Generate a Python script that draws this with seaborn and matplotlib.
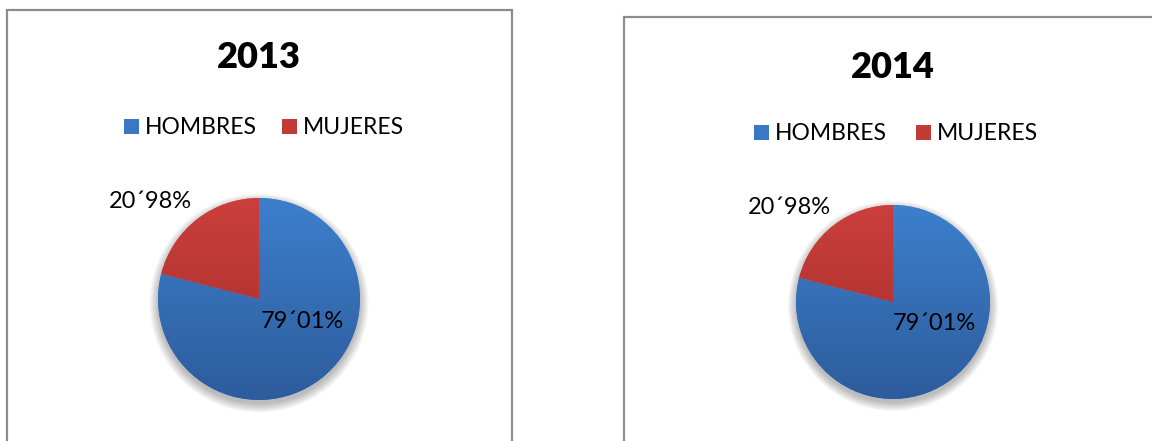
import numpy as np
import pandas as pd
import matplotlib
matplotlib.use("Agg")
import matplotlib.pyplot as plt
import seaborn as sns
from matplotlib.patches import Rectangle, Circle
from matplotlib.colors import LinearSegmentedColormap

# ---- data ----
years = ["2013", "2014"]
categories = ["HOMBRES", "MUJERES"]
values_2013 = [79.01, 20.98]
values_2014 = [79.01, 20.98]

sns.set_theme(style="white")
plt.rcParams["font.family"] = ["Lato", "DejaVu Sans"]

W, H = 1152, 441
fig = plt.figure(figsize=(W / 100, H / 100), dpi=100)
fig.patch.set_facecolor("white")

top_colors = ["#3D7FCC", "#CB3F3B"]
bot_colors = ["#2D5C9C", "#A02D2B"]
legend_colors = ["#3A78C4", "#C23B37"]

def fx(px):
    return px / W

def fy(py):
    return 1 - py / H

panels = [
    dict(x0=7, y0=10, x1=512, cx=259, cy=299, r=101, title_y=58, leg_y=127,
         leg_x=[124, 282]),
    dict(x0=624, y0=17, x1=1160, cx=893, cy=302, r=97, title_y=67, leg_y=133,
         leg_x=[754, 916]),
]

data = pd.DataFrame({"year": np.repeat(years, 2),
                     "categoria": categories * 2,
                     "valor": values_2013 + values_2014})

def fmt(v):
    return f"{v:.2f}".replace(".", "´") + "%"

for p, year in zip(panels, years):
    fig.patches.append(Rectangle((fx(p["x0"]), fy(H + 20)), fx(p["x1"] - p["x0"]),
                                 (H + 20 - p["y0"]) / H, transform=fig.transFigure,
                                 fill=False, edgecolor="#8C8C8C", linewidth=1.6))
    fig.text(fx(p["cx"]), fy(p["title_y"]), year, ha="center", va="center",
             fontsize=26, fontweight="heavy", color="black")
    for lx, cat, col in zip(p["leg_x"], categories, legend_colors):
        fig.patches.append(Rectangle((fx(lx), fy(p["leg_y"] + 7)), fx(15), 15 / H,
                                     transform=fig.transFigure, facecolor=col,
                                     edgecolor="none"))
        fig.text(fx(lx + 21), fy(p["leg_y"]), cat, ha="left", va="center",
                 fontsize=16.5, color="black")

    r = p["r"]
    ax = fig.add_axes([fx(p["cx"] - r), fy(p["cy"] + r), fx(2 * r), 2 * r / H])
    ax.set_xlim(-1, 1)
    ax.set_ylim(-1, 1)
    ax.axis("off")

    sub = data[data["year"] == year]
    vals = sub["valor"].to_numpy()

    for k in range(8):
        ax.add_patch(Circle((0, -0.04), 1.0 + 0.012 * k, facecolor="black",
                            alpha=0.035, edgecolor="none", zorder=0, clip_on=False))
    ax.add_patch(Circle((0, 0), 1.0, facecolor="white", edgecolor="none", zorder=0.5))

    wedges, _ = ax.pie(vals, startangle=90, counterclock=False, radius=1,
                       colors=top_colors, wedgeprops=dict(linewidth=0))
    grad = np.linspace(0, 1, 256).reshape(-1, 1)
    for w, tc, bc in zip(wedges, top_colors, bot_colors):
        cmap = LinearSegmentedColormap.from_list("g", [tc, bc])
        im = ax.imshow(grad, cmap=cmap, extent=(-1, 1, -1, 1), origin="upper",
                       aspect="auto", zorder=2)
        im.set_clip_path(w)
    ax.set_xlim(-1, 1)
    ax.set_ylim(-1, 1)

    ax.text(0.43, -0.22, fmt(vals[0]), ha="center", va="center", fontsize=17,
            color="black", zorder=5)
    ax.text(-1.07, 0.97, fmt(vals[1]), ha="center", va="center", fontsize=17,
            color="black", zorder=5, clip_on=False)

fig.savefig("out.png", dpi=100, facecolor="white")
